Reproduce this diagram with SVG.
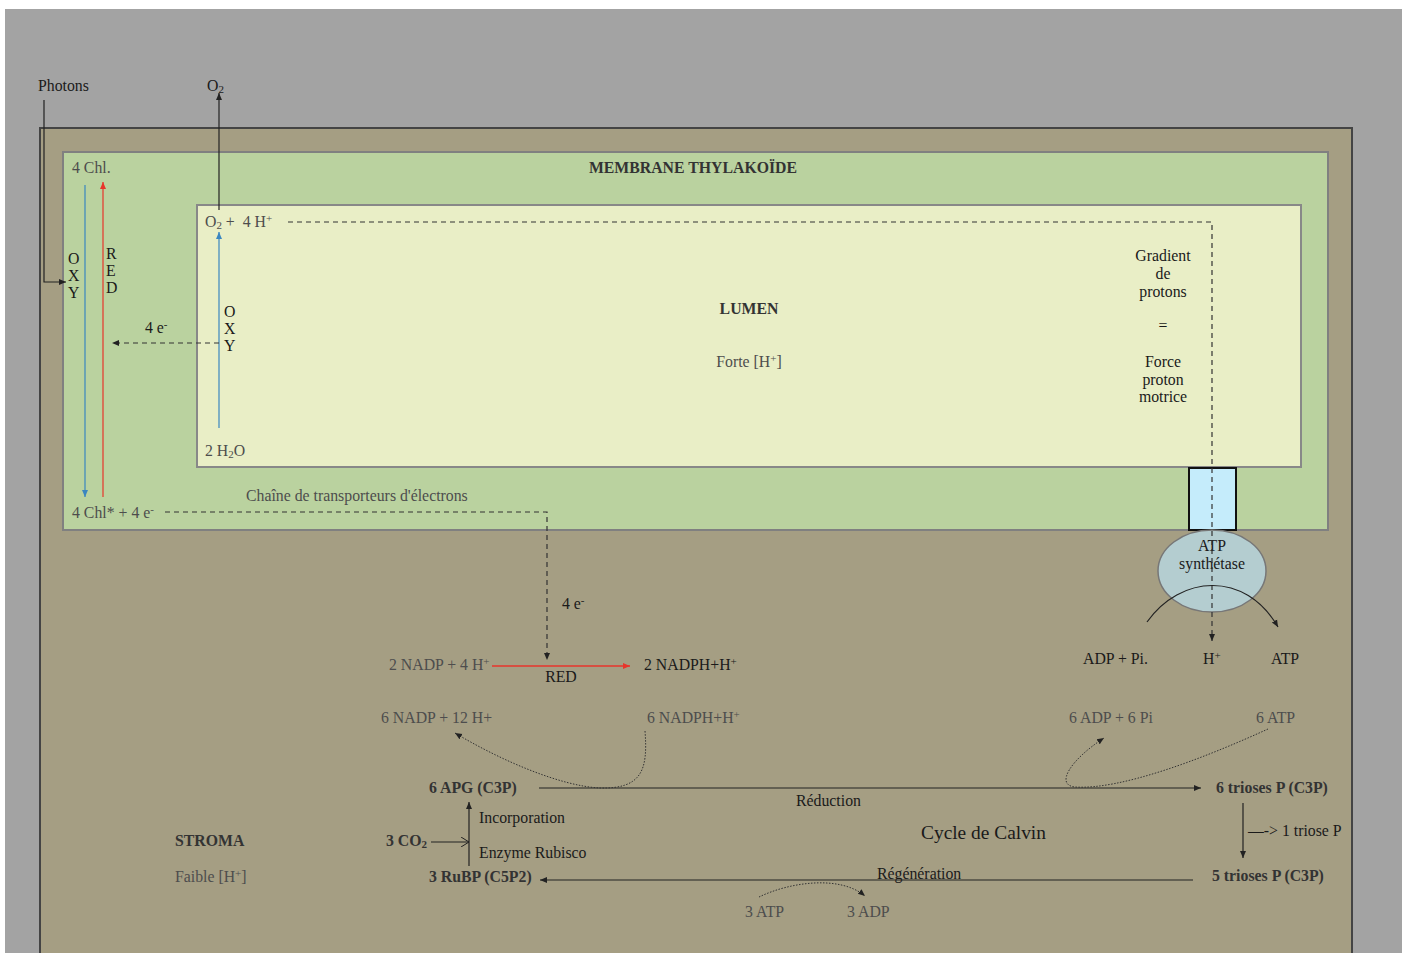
<svg xmlns="http://www.w3.org/2000/svg" width="1410" height="953" viewBox="0 0 1410 953">
<defs>
<style>
text{font-family:"Liberation Serif","Times New Roman",serif;font-size:15.8px;fill:#333}
.g{fill:#4d4d4d}
.k{fill:#1a1a1a}
.b{font-weight:bold}
.s{font-size:11px}
.c{text-anchor:middle}
.ln{fill:none;stroke:#222;stroke-width:1.2}
.dash{fill:none;stroke:#333;stroke-width:1.2;stroke-dasharray:5 4}
.dot{fill:none;stroke:#333;stroke-width:1;stroke-dasharray:1.5 1.5}
</style>
<marker id="ah" markerWidth="8" markerHeight="8" refX="7" refY="4" orient="auto" markerUnits="userSpaceOnUse"><path d="M0,1 L7,4 L0,7 Z" fill="#222"/></marker>
<marker id="ahr" markerWidth="8" markerHeight="8" refX="7" refY="4" orient="auto" markerUnits="userSpaceOnUse"><path d="M0,1 L7,4 L0,7 Z" fill="#e8352b"/></marker>
<marker id="ahb" markerWidth="8" markerHeight="8" refX="7" refY="4" orient="auto" markerUnits="userSpaceOnUse"><path d="M0,1 L7,4 L0,7 Z" fill="#3a86c0"/></marker>
<marker id="aho" markerWidth="10" markerHeight="10" refX="8" refY="5" orient="auto" markerUnits="userSpaceOnUse"><path d="M0,0 L8,5 L0,10" fill="none" stroke="#222" stroke-width="1"/></marker>
</defs>
<rect x="0" y="0" width="1410" height="953" fill="#ffffff"/>
<rect x="5" y="9" width="1397" height="944" fill="#a3a3a3"/>
<g id="stroma">
<rect x="40" y="128" width="1312" height="830" fill="#a59e83" stroke="#444" stroke-width="2"/>
<text x="175" y="846" class="b">STROMA</text>
<text x="175" y="882" class="g">Faible [H<tspan class="s" dy="-5">+</tspan><tspan dy="5">]</tspan></text>
</g>
<g id="membrane">
<rect x="63" y="152" width="1265" height="378" fill="#bad29f" stroke="#808080" stroke-width="2"/>
<text x="693" y="173" class="b c">MEMBRANE THYLAKOÏDE</text>
<text x="72" y="173" class="g">4 Chl.</text>
<text x="72" y="518" class="g">4 Chl* + 4 e<tspan class="s" dy="-5">-</tspan></text>
<text x="246" y="501" class="g">Chaîne de transporteurs d'électrons</text>
<text x="68" y="264" class="k">O</text><text x="68" y="281" class="k">X</text><text x="68" y="298" class="k">Y</text>
<text x="106" y="259" class="k">R</text><text x="106" y="276" class="k">E</text><text x="106" y="293" class="k">D</text>
<text x="145" y="333" class="k">4 e<tspan class="s" dy="-5">-</tspan></text>
</g>
<g id="lumen">
<rect x="197" y="205" width="1104" height="262" fill="#e9eec6" stroke="#888" stroke-width="2"/>
<text x="205" y="227" class="g">O<tspan class="s" dy="2">2</tspan><tspan dy="-2"> + &#160;4 H</tspan><tspan class="s" dy="-5">+</tspan></text>
<text x="205" y="456" class="g">2 H<tspan class="s" dy="2">2</tspan><tspan dy="-2">O</tspan></text>
<text x="224" y="317" class="k">O</text><text x="224" y="334" class="k">X</text><text x="224" y="351" class="k">Y</text>
<text x="749" y="314" class="b c">LUMEN</text>
<text x="749" y="367" class="g c">Forte [H<tspan class="s" dy="-5">+</tspan><tspan dy="5">]</tspan></text>
<text x="1163" y="261" class="k c">Gradient</text>
<text x="1163" y="279" class="k c">de</text>
<text x="1163" y="297" class="k c">protons</text>
<text x="1163" y="331" class="k c">=</text>
<text x="1163" y="367" class="k c">Force</text>
<text x="1163" y="385" class="k c">proton</text>
<text x="1163" y="402" class="k c">motrice</text>
</g>
<g id="atp-synthetase">
<rect x="1189" y="468" width="47" height="62" fill="#c5ecfb" stroke="#111" stroke-width="2"/>
<ellipse cx="1212" cy="571" rx="54" ry="41" fill="#b4cdd0" stroke="#777" stroke-width="1.5"/>
<text x="1212" y="551" class="k c">ATP</text>
<text x="1212" y="569" class="k c">synthétase</text>
</g>
<g id="labels-top">
<text x="38" y="91" class="k">Photons</text>
<text x="207" y="91" class="k">O<tspan class="s" dy="2">2</tspan></text>
</g>
<g id="light-products">
<text x="389" y="670" class="g">2 NADP + 4 H<tspan class="s" dy="-5">+</tspan></text>
<text x="644" y="670" class="k">2 NADPH+H<tspan class="s" dy="-5">+</tspan></text>
<text x="561" y="682" class="k c">RED</text>
<text x="562" y="609" class="k">4 e<tspan class="s" dy="-5">-</tspan></text>
<text x="1083" y="664" class="k">ADP + Pi.</text>
<text x="1203" y="664" class="k">H<tspan class="s" dy="-5">+</tspan></text>
<text x="1271" y="664" class="k">ATP</text>
</g>
<g id="calvin">
<text x="381" y="723" class="g">6 NADP + 12 H+</text>
<text x="647" y="723" class="g">6 NADPH+H<tspan class="s" dy="-5">+</tspan></text>
<text x="1069" y="723" class="g">6 ADP + 6 Pi</text>
<text x="1256" y="723" class="g">6 ATP</text>
<text x="429" y="793" class="b">6 APG (C3P)</text>
<text x="1216" y="793" class="b">6 trioses P (C3P)</text>
<text x="796" y="806" class="k">Réduction</text>
<text x="921" y="839" class="k" style="font-size:19.4px">Cycle de Calvin</text>
<text x="479" y="823" class="k">Incorporation</text>
<text x="479" y="858" class="k">Enzyme Rubisco</text>
<text x="386" y="846" class="b">3 CO<tspan class="s" dy="2">2</tspan></text>
<text x="429" y="882" class="b">3 RuBP (C5P2)</text>
<text x="877" y="879" class="k">Régénération</text>
<text x="745" y="917" class="g">3 ATP</text>
<text x="847" y="917" class="g">3 ADP</text>
<text x="1248" y="836" class="k">—-&gt; 1 triose P</text>
<text x="1212" y="881" class="b">5 trioses P (C3P)</text>
</g>
<g id="connectors">
<path d="M44,100 V282 H66" class="ln" marker-end="url(#ah)"/>
<path d="M219,210 V93" class="ln" marker-end="url(#ah)"/>
<path d="M85,185 V497" fill="none" stroke="#3a86c0" stroke-width="1.2" marker-end="url(#ahb)"/>
<path d="M103,497 V182" fill="none" stroke="#e8352b" stroke-width="1.2" marker-end="url(#ahr)"/>
<path d="M219,428 V232" fill="none" stroke="#3a86c0" stroke-width="1.2" marker-end="url(#ahb)"/>
<path d="M219,343 H112" class="dash" marker-end="url(#ah)"/>
<path d="M288,222 H1212 V641" class="dash" marker-end="url(#ah)"/>
<path d="M165,512 H547 V660" class="dash" marker-end="url(#ah)"/>
<path d="M492,666 H630" fill="none" stroke="#e8352b" stroke-width="1.4" marker-end="url(#ahr)"/>
<path d="M1147,622 C1180,575 1245,570 1278,627" class="ln" stroke-width="1.5" marker-end="url(#ah)"/>
<path d="M539,788 H1201" class="ln" marker-end="url(#ah)"/>
<path d="M645,731 C648,770 642,789 600,788 C560,786 500,760 455,733" class="dot" marker-end="url(#ah)"/>
<path d="M1268,729 C1200,760 1120,790 1075,787 C1055,785 1070,760 1104,738" class="dot" marker-end="url(#ah)"/>
<path d="M469,866 V802" class="ln" marker-end="url(#ah)"/>
<path d="M431,842 H469" class="ln" marker-end="url(#aho)"/>
<path d="M1193,880 H540" class="ln" marker-end="url(#ah)"/>
<path d="M759,897 C790,882 840,875 865,896" class="dot" marker-end="url(#ah)"/>
<path d="M1243,803 V858" class="ln" marker-end="url(#ah)"/>
</g>
</svg>
